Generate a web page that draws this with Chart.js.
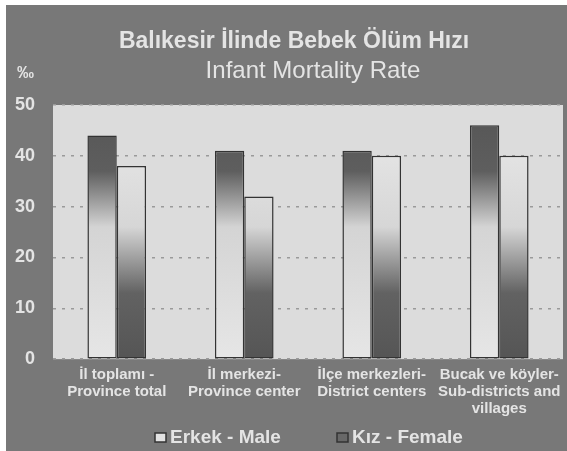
<!DOCTYPE html>
<html>
<head>
<meta charset="utf-8">
<script src="https://cdn.jsdelivr.net/npm/chart.js@4"></script>
<style>
  html, body { margin: 0; padding: 0; background: #ffffff; }
  #wrap { position: absolute; left: 6px; top: 5px; width: 561px; height: 446px; background: #787878; }
</style>
</head>
<body>
<div id="wrap"><canvas id="mortalityChart"></canvas></div>
<script>
const categories = [
  ["İl toplamı -", "Province total"],
  ["İl merkezi-", "Province center"],
  ["İlçe merkezleri-", "District centers"],
  ["Bucak ve köyler-", "Sub-districts and", "villages"]
];
const maleRate = [44, 41, 41, 46];
const femaleRate = [38, 32, 40, 40];
const seriesNames = ["Erkek - Male", "Kız - Female"];
const titleText = "Balıkesir İlinde Bebek Ölüm Hızı";
const subtitleText = "Infant Mortality Rate";
const unitText = "‰";

const textColor = "#e4e4e4";
const font = "'Liberation Sans', Arial, sans-serif";

function barGradient(ctx, darkTop) {
  const area = ctx.chart.chartArea;
  if (!area) return "#bbbbbb";
  const g = ctx.chart.ctx.createLinearGradient(0, area.top, 0, area.bottom);
  if (darkTop) {
    g.addColorStop(0, "#555555");
    g.addColorStop(0.26, "#5e5e5e");
    g.addColorStop(0.48, "#d4d4d4");
    g.addColorStop(1, "#e6e6e6");
  } else {
    g.addColorStop(0, "#ececec");
    g.addColorStop(0.48, "#d6d6d6");
    g.addColorStop(0.74, "#626262");
    g.addColorStop(1, "#555555");
  }
  return g;
}

// plot fill, headings and the legend row
const decorations = {
  id: "decorations",
  beforeDraw(chart) {
    const { ctx, chartArea: a } = chart;
    ctx.save();
    ctx.fillStyle = "#dcdcdc";
    ctx.fillRect(a.left, a.top, a.right - a.left, a.bottom - a.top);
    ctx.restore();
  },
  afterDraw(chart) {
    const ctx = chart.ctx;
    ctx.save();
    ctx.fillStyle = textColor;
    ctx.textBaseline = "alphabetic";
    ctx.textAlign = "center";
    ctx.font = "bold 23px " + font;
    ctx.fillText(titleText, 288, 43);
    ctx.font = "24px " + font;
    ctx.fillText(subtitleText, 307, 73);
    ctx.textAlign = "left";
    ctx.font = "bold 17px " + font;
    ctx.fillText(unitText, 11, 73);

    const boxes = [149, 331];
    const fills = ["#e2e2e2", "#686868"];
    ctx.font = "bold 19px " + font;
    ctx.textBaseline = "middle";
    chart.data.datasets.forEach((ds, i) => {
      ctx.fillStyle = fills[i];
      ctx.strokeStyle = "#333333";
      ctx.lineWidth = 1.5;
      ctx.fillRect(boxes[i], 428, 11, 9);
      ctx.strokeRect(boxes[i], 428, 11, 9);
      ctx.fillStyle = textColor;
      ctx.fillText(ds.label, boxes[i] + 15, 433);
    });
    ctx.restore();
  }
};

new Chart(document.getElementById("mortalityChart"), {
  type: "bar",
  data: {
    labels: categories,
    datasets: [
      {
        label: seriesNames[0],
        data: maleRate,
        backgroundColor: (ctx) => barGradient(ctx, true),
        borderColor: "#333333",
        borderWidth: 1.5,
        borderSkipped: false
      },
      {
        label: seriesNames[1],
        data: femaleRate,
        backgroundColor: (ctx) => barGradient(ctx, false),
        borderColor: "#333333",
        borderWidth: 1.5,
        borderSkipped: false
      }
    ]
  },
  options: {
    responsive: true,
    maintainAspectRatio: false,
    animation: false,
    layout: { padding: { left: 9, right: 4, top: 100, bottom: 27 } },
    datasets: { bar: { barPercentage: 1, categoryPercentage: 0.46 } },
    plugins: {
      legend: { display: false },
      tooltip: { enabled: false }
    },
    scales: {
      x: {
        grid: { display: false, drawTicks: false },
        border: { display: false },
        ticks: {
          color: textColor,
          font: { family: font, size: 15, weight: "bold", lineHeight: 1.13 },
          maxRotation: 0,
          autoSkip: false,
          padding: 7
        },
        afterFit(scale) {
          // let the long last label run off the edge, as in the print
          scale.paddingLeft = 0;
          scale.paddingRight = 0;
        }
      },
      y: {
        min: 0,
        max: 50,
        ticks: {
          stepSize: 10,
          color: textColor,
          font: { family: font, size: 18, weight: "bold" },
          padding: 18
        },
        grid: { color: "#9a9a9a", lineWidth: 1.5, drawTicks: false },
        border: { display: false, dash: [3, 6] },
        afterFit(scale) {
          scale.width = 38;
        }
      }
    }
  },
  plugins: [decorations]
});
</script>
</body>
</html>
